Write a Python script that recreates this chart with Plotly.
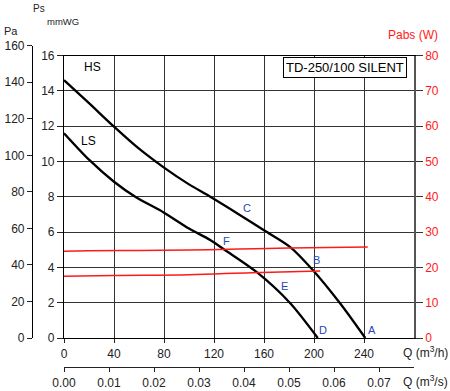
import plotly.graph_objects as go

W, H = 450, 391

# ---- data ----
q_hs = [0, 20, 40, 60, 80, 100, 117, 140, 160, 181, 199, 221, 241]                 # m3/h
ps_hs = [14.6, 13.3, 11.97, 10.72, 9.65, 8.7, 8.0, 7.0, 6.1, 5.15, 3.85, 1.95, 0]  # mmWG
q_ls = [0, 20, 40, 57, 80, 100, 117, 129, 154, 181, 203]
ps_ls = [11.6, 10.1, 8.85, 8.0, 7.1, 6.2, 5.55, 4.97, 3.74, 1.97, 0]
q_pw_hs = [0, 20, 60, 100, 140, 180, 243]
pw_hs = [24.6, 24.7, 24.8, 24.9, 25.2, 25.5, 25.8]                                 # W
q_pw_ls = [0, 40, 100, 150, 205]
pw_ls = [17.5, 17.7, 17.9, 18.5, 19.0]

q_ticks = [0, 40, 80, 120, 160, 200, 240]
qs_ticks = [0.00, 0.01, 0.02, 0.03, 0.04, 0.05, 0.06, 0.07]
mm_ticks = [0, 2, 4, 6, 8, 10, 12, 14, 16]
pa_ticks = [0, 20, 40, 60, 80, 100, 120, 140, 160]
w_ticks = [0, 10, 20, 30, 40, 50, 60, 70, 80]


def fx(x):
    return x / W


def fy(y):
    return 1 - y / H


FONT = "Liberation Sans, Arial, sans-serif"
TXT = "#222222"
BLUE = "#2a46b8"
RED = "#ff1a1a"

fig = go.Figure()
fig.add_trace(go.Scatter(x=q_hs, y=ps_hs, mode="lines", line=dict(color="black", width=2.3, shape="spline", smoothing=0.8),
                         xaxis="x", yaxis="y", showlegend=False, hoverinfo="skip"))
fig.add_trace(go.Scatter(x=q_ls, y=ps_ls, mode="lines", line=dict(color="black", width=2.3, shape="spline", smoothing=0.8),
                         xaxis="x", yaxis="y", showlegend=False, hoverinfo="skip"))
fig.add_trace(go.Scatter(x=q_pw_hs, y=pw_hs, mode="lines", line=dict(color=RED, width=1.5, shape="spline"),
                         xaxis="x", yaxis="y2", showlegend=False, hoverinfo="skip"))
fig.add_trace(go.Scatter(x=q_pw_ls, y=pw_ls, mode="lines", line=dict(color=RED, width=1.5, shape="spline"),
                         xaxis="x", yaxis="y2", showlegend=False, hoverinfo="skip"))
# empty traces to carry the extra axes
fig.add_trace(go.Scatter(x=[], y=[], xaxis="x3", yaxis="y3", showlegend=False))
fig.add_trace(go.Scatter(x=[], y=[], xaxis="x2", yaxis="y", showlegend=False))

xdom = [fx(64), fx(414)]
ydom = [fy(338), fy(55.5)]

fig.update_layout(
    template="none",
    width=W, height=H,
    margin=dict(l=0, r=0, t=0, b=0, autoexpand=False),
    paper_bgcolor="white", plot_bgcolor="rgba(0,0,0,0)",
    font=dict(family=FONT, size=12, color=TXT),
    xaxis=dict(domain=xdom, range=[0, 280], tickvals=q_ticks, ticks="outside", ticklen=4,
               tickcolor="#222", showgrid=True, gridcolor="#333", gridwidth=1, zeroline=False,
               showline=True, linecolor="black", linewidth=1.2, mirror=True, anchor="y",
               tickfont=dict(size=12, color=TXT), automargin=False),
    xaxis2=dict(overlaying="x", range=[0, 280 / 3600], tickvals=qs_ticks, tickformat=".2f",
                anchor="free", position=fy(367), side="bottom", ticks="outside", ticklen=4,
                tickcolor="#222", showgrid=False, zeroline=False, showline=True, linecolor="#222",
                linewidth=1.2, tickfont=dict(size=12, color=TXT), automargin=False),
    xaxis3=dict(domain=xdom, range=[0, 280], visible=False, anchor="y3", automargin=False),
    yaxis=dict(domain=ydom, range=[0, 16], tickvals=mm_ticks, ticks="outside", ticklen=6,
               tickcolor="#222", showgrid=True, gridcolor="#333", gridwidth=1, zeroline=False,
               showline=True, linecolor="black", linewidth=1.2, anchor="x",
               tickfont=dict(size=12, color=TXT), automargin=False),
    yaxis2=dict(overlaying="y", side="right", range=[0, 80], tickvals=w_ticks, ticks="outside",
                ticklen=7, tickcolor="#333", showgrid=False, zeroline=False, showline=True,
                linecolor="#555", linewidth=1.5, anchor="x", tickfont=dict(size=12, color=RED),
                automargin=False),
    yaxis3=dict(domain=[fy(338), fy(45.7)], range=[0, 160], tickvals=pa_ticks, anchor="free",
                position=fx(32), side="left", ticks="outside", ticklen=5, tickcolor="#222",
                showgrid=False, zeroline=False, showline=True, linecolor="black", linewidth=1.2,
                tickfont=dict(size=12, color=TXT), automargin=False),
)

ann = []


def paper_text(x, y, text, size, color=TXT, **kw):
    d = dict(x=fx(x), y=fy(y), xref="paper", yref="paper", text=text, showarrow=False,
             xanchor="center", yanchor="middle", font=dict(size=size, color=color))
    d.update(kw)
    ann.append(d)


# axis titles
paper_text(39, 8, "Ps", 10)
paper_text(63, 22, "mmWG", 9.5)
paper_text(11, 31, "Pa", 11)
paper_text(413, 35, "Pabs (W)", 12, RED)
paper_text(425, 352, "Q (m<sup>3</sup>/h)", 12)
paper_text(425, 381, "Q (m<sup>3</sup>/s)", 12)
# model box
paper_text(344.5, 67.5, "TD-250/100 SILENT", 13, "black", bordercolor="black",
           borderwidth=1, borderpad=2, bgcolor="white")
# curve names
ann.append(dict(x=22.4, y=15.33, xref="x", yref="y", text="HS", showarrow=False,
                xanchor="center", yanchor="middle", font=dict(size=12, color="black")))
ann.append(dict(x=19.2, y=11.13, xref="x", yref="y", text="LS", showarrow=False,
                xanchor="center", yanchor="middle", font=dict(size=12, color="black")))
# point letters
for t, qx, py_ in [("A", 246, 0.48), ("B", 202, 4.41), ("C", 146.4, 7.36),
                   ("D", 207.4, 0.44), ("E", 176, 2.93), ("F", 130, 5.5)]:
    ann.append(dict(x=qx, y=py_, xref="x", yref="y", text=t, showarrow=False,
                    xanchor="center", yanchor="middle", font=dict(size=11, color=BLUE)))
fig.update_layout(annotations=ann)

fig.write_html("out.html", config={"displayModeBar": False},
               post_script="document.body.style.margin='0';document.body.style.padding='0';")
